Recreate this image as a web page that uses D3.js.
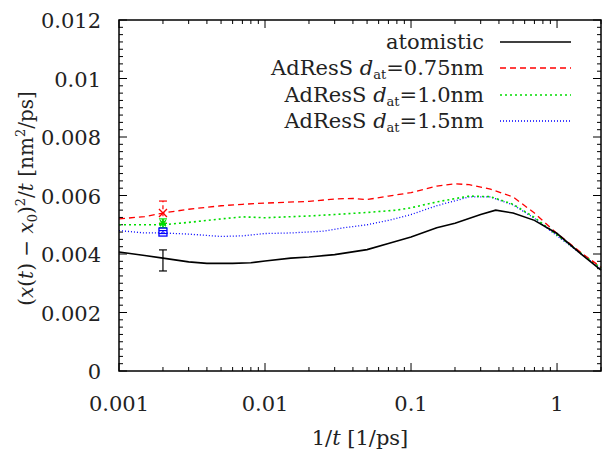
<!DOCTYPE html>
<html>
<head>
<meta charset="utf-8">
<script src="https://cdn.jsdelivr.net/npm/d3@7"></script>
<style>
  body { margin: 0; background: #fff; }
  text { font-family: "DejaVu Serif", "Liberation Serif", serif; fill: #222; }
</style>
</head>
<body>
<div id="grafica"></div>
<script>
// datos
const atomX = [0.001, 0.0015, 0.002, 0.003, 0.004, 0.006, 0.008, 0.01, 0.015, 0.02, 0.03, 0.05, 0.07, 0.1, 0.15, 0.2, 0.3, 0.38, 0.5, 0.7, 1.0, 1.5, 2.0]
const atomY = [0.00407, 0.00395, 0.00386, 0.00373, 0.00368, 0.00368, 0.00370, 0.00376, 0.00386, 0.00390, 0.00398, 0.00415, 0.00436, 0.00458, 0.00490, 0.00505, 0.00535, 0.00550, 0.00540, 0.00515, 0.00470, 0.00395, 0.00345]

const redX = [0.001, 0.0015, 0.002, 0.003, 0.005, 0.007, 0.01, 0.02, 0.03, 0.04, 0.05, 0.07, 0.1, 0.15, 0.2, 0.25, 0.35, 0.5, 0.7, 1.0, 1.5, 2.0]
const redY = [0.00520, 0.00528, 0.00540, 0.00553, 0.00565, 0.00570, 0.00574, 0.00580, 0.00588, 0.00590, 0.00586, 0.00598, 0.00610, 0.00632, 0.00640, 0.00637, 0.00622, 0.00595, 0.00540, 0.00470, 0.00400, 0.00355]

const greenX = [0.001, 0.002, 0.003, 0.005, 0.007, 0.01, 0.02, 0.03, 0.05, 0.08, 0.1, 0.15, 0.25, 0.35, 0.5, 0.7, 1.0, 1.5, 2.0]
const greenY = [0.00500, 0.00500, 0.00508, 0.00520, 0.00527, 0.00524, 0.00530, 0.00535, 0.00542, 0.00550, 0.00558, 0.00578, 0.00598, 0.00596, 0.00570, 0.00525, 0.00465, 0.00398, 0.00352]

const blueX = [0.001, 0.0015, 0.002, 0.003, 0.005, 0.007, 0.01, 0.015, 0.025, 0.035, 0.05, 0.07, 0.1, 0.15, 0.25, 0.35, 0.5, 0.7, 1.0, 1.5, 2.0]
const blueY = [0.00480, 0.00472, 0.00472, 0.00468, 0.00460, 0.00462, 0.00470, 0.00472, 0.00478, 0.00490, 0.00500, 0.00515, 0.00535, 0.00565, 0.00595, 0.00595, 0.00568, 0.00522, 0.00462, 0.00396, 0.00350]

// error bars at 1/t = 0.002: [x, y, low, high]
const errAtom = [0.002, 0.00380, 0.00342, 0.00414]
const errRed = [0.002, 0.00540, 0.00505, 0.00581]
const errGreen = [0.002, 0.00505, 0.00490, 0.00520]
const errBlue = [0.002, 0.00475, 0.00470, 0.00480]

const xTicks = [0.001, 0.01, 0.1, 1]
const xTickLabels = ['0.001', '0.01', '0.1', '1']
const yTicks = [0, 0.002, 0.004, 0.006, 0.008, 0.01, 0.012]
const yTickLabels = ['0', '0.002', '0.004', '0.006', '0.008', '0.01', '0.012']

const svgWidth = 602
const svgHeight = 451
const margin = { top: 20, right: 1, bottom: 80, left: 119 }
const chartWidth = svgWidth - margin.left - margin.right
const chartHeight = svgHeight - margin.top - margin.bottom

const scaleX = d3.scaleLog().domain([0.001, 2]).range([0, chartWidth])
const scaleY = d3.scaleLinear().domain([0, 0.012]).range([chartHeight, 0])

const svg = d3.select('#grafica')
    .append('svg')
    .attr('width', svgWidth)
    .attr('height', svgHeight)

const g = svg.append('g')
    .attr('transform', `translate(${margin.left},${margin.top})`)

// ticks (inward, mirrored)
const minorX = []
for (let e = -3; e <= 0; e++) {
    for (let m = 2; m <= 9; m++) {
        const v = m * Math.pow(10, e)
        if (v <= 2) minorX.push(v)
    }
}
const minorY = d3.range(0, 0.012001, 0.00025).filter(v => Math.abs(v / 0.002 - Math.round(v / 0.002)) > 1e-6)

const ticks = g.append('g').attr('stroke', '#000').attr('stroke-width', 1)
xTicks.forEach(v => {
    ticks.append('line').attr('x1', scaleX(v)).attr('x2', scaleX(v)).attr('y1', chartHeight).attr('y2', chartHeight - 8)
    ticks.append('line').attr('x1', scaleX(v)).attr('x2', scaleX(v)).attr('y1', 0).attr('y2', 8)
})
minorX.forEach(v => {
    ticks.append('line').attr('x1', scaleX(v)).attr('x2', scaleX(v)).attr('y1', chartHeight).attr('y2', chartHeight - 4)
    ticks.append('line').attr('x1', scaleX(v)).attr('x2', scaleX(v)).attr('y1', 0).attr('y2', 4)
})
yTicks.forEach(v => {
    ticks.append('line').attr('x1', 0).attr('x2', 8).attr('y1', scaleY(v)).attr('y2', scaleY(v))
    ticks.append('line').attr('x1', chartWidth).attr('x2', chartWidth - 8).attr('y1', scaleY(v)).attr('y2', scaleY(v))
})
minorY.forEach(v => {
    ticks.append('line').attr('x1', 0).attr('x2', 4).attr('y1', scaleY(v)).attr('y2', scaleY(v))
    ticks.append('line').attr('x1', chartWidth).attr('x2', chartWidth - 4).attr('y1', scaleY(v)).attr('y2', scaleY(v))
})

// tick labels
g.selectAll('.xlab')
    .data(xTicks)
    .enter()
    .append('text')
    .attr('class', 'xlab')
    .attr('x', d => scaleX(d))
    .attr('y', chartHeight + 40)
    .attr('text-anchor', 'middle')
    .style('font-size', '21px')
    .text((d, i) => xTickLabels[i])

g.selectAll('.ylab')
    .data(yTicks)
    .enter()
    .append('text')
    .attr('class', 'ylab')
    .attr('x', -18)
    .attr('y', d => scaleY(d) + 8)
    .attr('text-anchor', 'end')
    .style('font-size', '21px')
    .text((d, i) => yTickLabels[i])

// curves
const line = d3.line().x(d => scaleX(d[0])).y(d => scaleY(d[1]))
const series = [
    { name: 'atomistic', xs: atomX, ys: atomY, color: '#000', dash: null, w: 1.6 },
    { name: '0.75', xs: redX, ys: redY, color: '#ff0000', dash: '6,4', w: 1.3 },
    { name: '1.0', xs: greenX, ys: greenY, color: '#00dd00', dash: '2,3', w: 1.6 },
    { name: '1.5', xs: blueX, ys: blueY, color: '#0000ff', dash: '1,2', w: 1.3 }
]
const plot = g.append('g')
series.slice().reverse().forEach(s => {
    plot.append('path')
        .datum(s.xs.map((x, i) => [x, s.ys[i]]))
        .attr('d', line)
        .attr('fill', 'none')
        .attr('stroke', s.color)
        .attr('stroke-width', s.w)
        .attr('stroke-dasharray', s.dash)
})

// error bars + markers
function errbar(e, color, dash) {
    const x = scaleX(e[0])
    plot.append('line').attr('x1', x).attr('x2', x).attr('y1', scaleY(e[2])).attr('y2', scaleY(e[3]))
        .attr('stroke', color).attr('stroke-width', 1.2).attr('stroke-dasharray', dash)
    ;[e[2], e[3]].forEach(v => {
        plot.append('line').attr('x1', x - 4).attr('x2', x + 4).attr('y1', scaleY(v)).attr('y2', scaleY(v))
            .attr('stroke', color).attr('stroke-width', 1.2)
    })
}
errbar(errAtom, '#000', null)
errbar(errRed, '#ff0000', '4,3')
errbar(errGreen, '#00dd00', null)
errbar(errBlue, '#0000ff', null)

// red cross
const rx = scaleX(errRed[0]), ry = scaleY(errRed[1])
plot.append('path').attr('d', `M${rx - 4},${ry - 4}L${rx + 4},${ry + 4}M${rx - 4},${ry + 4}L${rx + 4},${ry - 4}`)
    .attr('stroke', '#ff0000').attr('stroke-width', 1.3)
// green star
const gx = scaleX(errGreen[0]), gy = scaleY(errGreen[1])
plot.append('path').attr('d', `M${gx - 4},${gy}L${gx + 4},${gy}M${gx},${gy - 4}L${gx},${gy + 4}M${gx - 3},${gy - 3}L${gx + 3},${gy + 3}M${gx - 3},${gy + 3}L${gx + 3},${gy - 3}`)
    .attr('stroke', '#00dd00').attr('stroke-width', 1.3)
// blue square
const bx = scaleX(errBlue[0]), by = scaleY(errBlue[1])
plot.append('rect').attr('x', bx - 4).attr('y', by - 4).attr('width', 8).attr('height', 8)
    .attr('fill', 'none').attr('stroke', '#0000ff').attr('stroke-width', 1.3)

// frame
g.append('rect')
    .attr('width', chartWidth)
    .attr('height', chartHeight)
    .attr('fill', 'none')
    .attr('stroke', '#000')
    .attr('stroke-width', 1.5)

// legend
const legend = g.append('g')
const rowY = [22, 48, 75, 101]
const legLabels = ['atomistic', '0.75', '1.0', '1.5']
series.forEach((s, i) => {
    const t = legend.append('text')
        .attr('x', 365)
        .attr('y', rowY[i] + 7)
        .attr('text-anchor', 'end')
        .style('font-size', '21px')
    if (i === 0) {
        t.text('atomistic')
    } else {
        t.append('tspan').text('AdResS ')
        t.append('tspan').style('font-style', 'italic').text('d')
        t.append('tspan').attr('dy', 4).style('font-size', '13px').text('at')
        t.append('tspan').attr('dy', -4).text('=' + legLabels[i] + 'nm')
    }
    legend.append('line')
        .attr('x1', 381).attr('x2', 452)
        .attr('y1', rowY[i]).attr('y2', rowY[i])
        .attr('stroke', s.color)
        .attr('stroke-width', s.w)
        .attr('stroke-dasharray', s.dash)
})

// axis titles
svg.append('text')
    .attr('x', margin.left + chartWidth / 2)
    .attr('y', 445)
    .attr('text-anchor', 'middle')
    .style('font-size', '21px')
    .call(t => {
        t.append('tspan').text('1/')
        t.append('tspan').style('font-style', 'italic').text('t')
        t.append('tspan').text(' [1/ps]')
    })

const yl = svg.append('text')
    .attr('transform', `translate(33,${margin.top + chartHeight / 2 + 3}) rotate(-90)`)
    .attr('text-anchor', 'middle')
    .style('font-size', '20px')
yl.append('tspan').text('(')
yl.append('tspan').style('font-style', 'italic').text('x')
yl.append('tspan').text('(')
yl.append('tspan').style('font-style', 'italic').text('t')
yl.append('tspan').text(') − ')
yl.append('tspan').style('font-style', 'italic').text('x')
yl.append('tspan').attr('dy', 4).style('font-size', '13px').text('0')
yl.append('tspan').attr('dy', -4).text(')')
yl.append('tspan').attr('dy', -8).style('font-size', '13px').text('2')
yl.append('tspan').attr('dy', 8).text('/')
yl.append('tspan').style('font-style', 'italic').text('t')
yl.append('tspan').text(' [nm')
yl.append('tspan').attr('dy', -8).style('font-size', '13px').text('2')
yl.append('tspan').attr('dy', 8).text('/ps]')
</script>
</body>
</html>
